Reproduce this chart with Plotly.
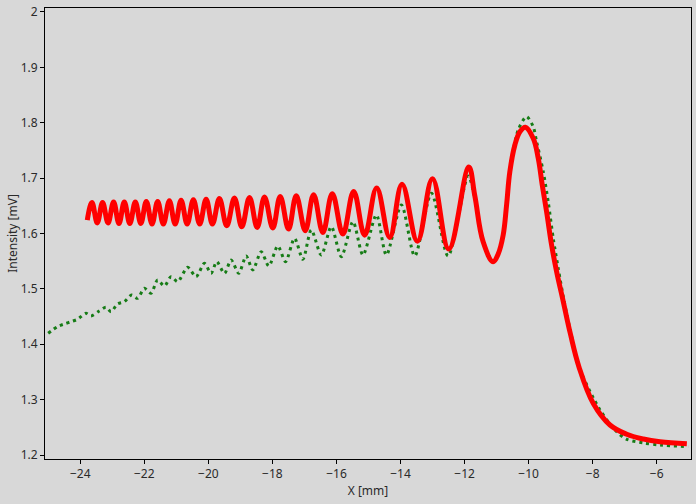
import plotly.graph_objects as go

# Fit curve (red) - extrema and key points
fit_x = [-23.78, -23.634, -23.468, -23.303, -23.131, -22.959, -22.790, -22.624, -22.452, -22.280,
         -22.108, -21.936, -21.758, -21.583, -21.405, -21.217, -21.036, -20.851, -20.660, -20.467,
         -20.270, -20.069, -19.872, -19.654, -19.425, -19.185, -18.956, -18.715, -18.475, -18.247,
         -17.987, -17.756, -17.496, -17.255, -16.974, -16.714, -16.423, -16.130, -15.798, -15.463,
         -15.119, -14.744, -14.338, -13.953, -13.472, -13.002, -12.493, -11.868, -11.68, -11.42,
         -11.108, -10.95, -10.795, -10.688, -10.586, -10.429, -10.273, -10.100, -9.857, -9.700,
         -9.575, -9.438, -9.282, -9.125, -8.929, -8.700, -8.430, -7.980, -7.459, -6.936,
         -6.417, -5.895, -5.060]
fit_y = [1.624, 1.656, 1.619, 1.656, 1.619, 1.657, 1.618, 1.657, 1.618, 1.657,
         1.618, 1.658, 1.617, 1.658, 1.617, 1.659, 1.617, 1.660, 1.617, 1.661,
         1.617, 1.662, 1.617, 1.663, 1.614, 1.664, 1.612, 1.665, 1.611, 1.666,
         1.610, 1.667, 1.608, 1.668, 1.605, 1.670, 1.602, 1.672, 1.599, 1.676,
         1.597, 1.682, 1.593, 1.689, 1.586, 1.699, 1.572, 1.720, 1.668, 1.585,
         1.549, 1.563, 1.597, 1.6515, 1.7116, 1.7598, 1.7838, 1.792, 1.772, 1.736,
         1.688, 1.639, 1.579, 1.531, 1.480, 1.4198, 1.3595, 1.293, 1.2542, 1.2374,
         1.2289, 1.2240, 1.2204]

# Measured data (green)
meas_x = [-25.001, -24.710, -24.500, -24.291, -24.084, -23.822, -23.665, -23.406, -23.196, -23.040,
          -22.834, -22.624, -22.396, -22.208, -21.999, -21.789, -21.583, -21.373, -21.164, -20.957,
          -20.645, -20.382, -20.123, -19.913, -19.738, -19.497, -19.288, -19.050, -18.819, -18.612,
          -18.350, -18.112, -17.831, -17.590, -17.308, -17.049, -16.786, -16.473, -16.161, -15.848,
          -15.485, -15.172, -14.754, -14.441, -13.972, -13.556, -13.034, -12.515, -11.889, -11.68,
          -11.42, -11.108, -10.95, -10.795, -10.688, -10.586, -10.326, -10.063, -9.857, -9.751,
          -9.544, -9.388, -9.231, -9.075, -8.900, -8.680, -8.430, -7.771, -7.249, -6.936,
          -6.417, -5.895, -5.019]
meas_y = [1.4198, 1.4317, 1.4366, 1.4407, 1.4451, 1.4559, 1.4510, 1.4600, 1.4667, 1.4588,
          1.4727, 1.4768, 1.4889, 1.4830, 1.5010, 1.4920, 1.5160, 1.5052, 1.5220, 1.5130,
          1.5390, 1.5220, 1.5462, 1.5281, 1.5491, 1.5281, 1.5521, 1.5281, 1.5594, 1.5341,
          1.5671, 1.5413, 1.5774, 1.5491, 1.5913, 1.5534, 1.6063, 1.5612, 1.6123, 1.5581,
          1.6213, 1.5612, 1.6334, 1.5612, 1.6515, 1.5594, 1.6726, 1.5594, 1.7038, 1.665,
          1.585, 1.549, 1.563, 1.597, 1.6515, 1.7116, 1.787, 1.811, 1.793, 1.766,
          1.712, 1.657, 1.591, 1.537, 1.480, 1.4198, 1.3595, 1.2813, 1.2421, 1.2284,
          1.2217, 1.2181, 1.2150]

x_ticks = [-24, -22, -20, -18, -16, -14, -12, -10, -8, -6]
y_ticks = [1.2, 1.3, 1.4, 1.5, 1.6, 1.7, 1.8, 1.9, 2.0]
y_tick_text = ["1.2", "1.3", "1.4", "1.5", "1.6", "1.7", "1.8", "1.9", "2"]

bg = "#d8d8d8"
font = dict(family="Noto Sans", size=12, color="#2a2a2a")
fig = go.Figure()
fig.add_trace(go.Scatter(x=meas_x, y=meas_y, mode="lines",
                         line=dict(color="#167c16", width=3, dash="3px,4px", shape="spline", smoothing=0.8),
                         showlegend=False))
fig.add_trace(go.Scatter(x=fit_x, y=fit_y, mode="lines",
                         line=dict(color="#ff0000", width=5, shape="spline", smoothing=1.1),
                         showlegend=False))

axis_common = dict(showline=True, linecolor="black", linewidth=1, mirror=True, automargin=False,
                   ticks="outside", ticklen=4, tickcolor="black", showgrid=False, zeroline=False,
                   tickfont=font)
fig.update_xaxes(range=[-25.1, -4.93], tickvals=x_ticks,
                 title=dict(text="X [mm]", font=font, standoff=5), **axis_common)
fig.update_yaxes(range=[1.1928, 2.0072], tickvals=y_ticks, ticktext=y_tick_text,
                 title=dict(text="Intensity [mV]", font=font, standoff=0), **axis_common)
fig.update_layout(width=696, height=504, paper_bgcolor=bg, plot_bgcolor=bg,
                  margin=dict(l=45, r=5, t=8, b=45))
fig.write_html("out.html", config={"displayModeBar": False},
               post_script="document.body.style.margin='0px';document.body.style.background='%s';" % bg)
